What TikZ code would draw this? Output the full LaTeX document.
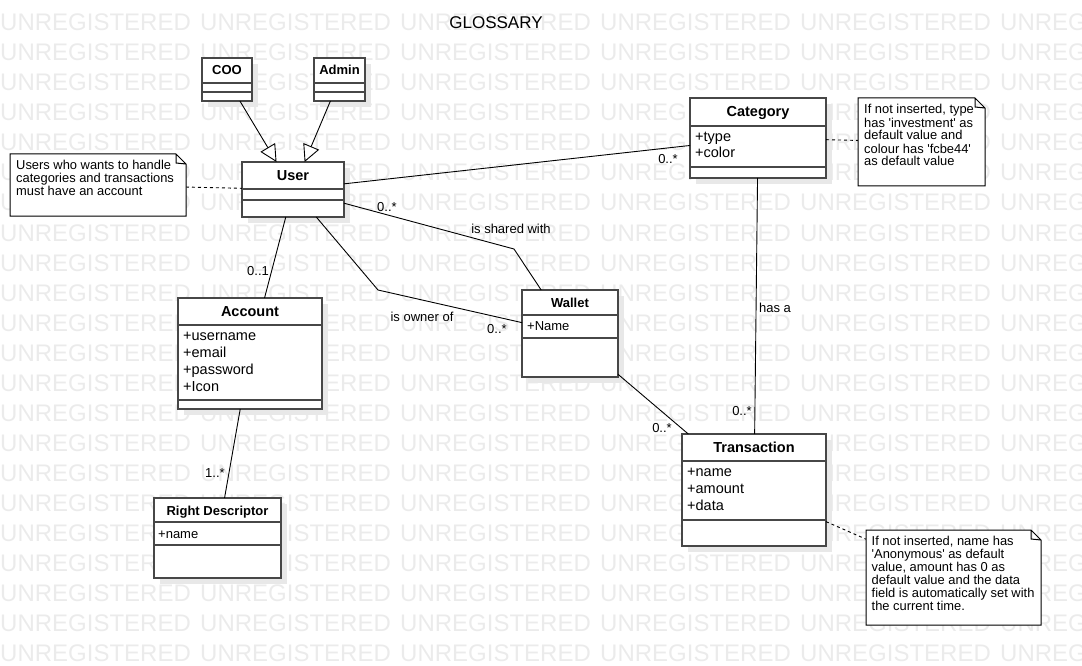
\documentclass[tikz,border=0pt]{standalone}
\usepackage{fontspec}
\setmainfont{Liberation Sans}
\usetikzlibrary{arrows.meta, shadows}

\tikzset{
  wmark/.style={anchor=base west, inner sep=0pt, text=black!8, font=\fontsize{24}{24}\selectfont},
  umlbox/.style={draw=black!72, line width=1.3pt, fill=white, inner sep=0pt, outer sep=0pt,
    drop shadow={shadow xshift=6pt, shadow yshift=-6pt, fill=black!9, opacity=1}},
  umlsep/.style={draw=black!72, line width=1.3pt},
  umltitle/.style={anchor=base, inner sep=0pt, font=\fontsize{14.5}{17}\selectfont\bfseries},
  umlsmall/.style={anchor=base, inner sep=0pt, font=\fontsize{13}{15}\selectfont\bfseries},
  umlattr/.style={anchor=base west, inner sep=0pt, align=left, font=\fontsize{14.5}{17}\selectfont},
  umlattrsmall/.style={umlattr, font=\fontsize{13}{15}\selectfont},
  note/.style={inner sep=0pt, outer sep=0pt},
  notebox/.style={draw=black, fill=white, line width=1pt},
  notetext/.style={anchor=base west, inner sep=0pt, align=left, font=\fontsize{12.9}{13}\selectfont},
  assoc/.style={draw=black, line width=0.9pt},
  gen/.style={assoc, -{Triangle[length=17pt, width=17pt, fill=white]}},
  notelink/.style={draw=black, line width=0.9pt, dash pattern=on 3pt off 3pt},
  mult/.style={inner sep=0pt, font=\fontsize{13}{15}\selectfont}
}

\begin{document}
\begin{tikzpicture}[x=1pt, y=-1pt]
\useasboundingbox (0,0) rectangle (1082,666);

% watermark
\begin{scope}
\clip (0,0) rectangle (1082,666);
\foreach \r in {0,...,21}
  \foreach \c in {0,...,5}
    \node[wmark] (wm-\c-\r) at (200*\c, 31+30*\r) {UNREGISTERED};
\end{scope}

\node[inner sep=0pt, anchor=base, font=\fontsize{17}{20}\selectfont] (title) at (496,28.5) {GLOSSARY};

% classes
\foreach \n/\cx/\cy/\w/\h in {coo/227/79.5/50/43, admin/339.5/79.5/51/43, user/293/189.5/102/55,
    category/758/138/136/80, account/250/353.5/144/111, wallet/570/333.5/96/87,
    transaction/754/490/144/112, rightdesc/217.5/538/127/80}
  \node[umlbox, minimum width=\w pt, minimum height=\h pt] (\n) at (\cx,\cy) {};

\foreach \n/\w/\a/\b in {coo/50/25/34, admin/51/25/34, user/102/27/38, category/136/28/69,
    account/144/27/102, wallet/96/25/48, transaction/144/27/86, rightdesc/127/24/47}
  \draw[umlsep] (\n.north west) ++(0,\a) -- ++(\w,0) (\n.north west) ++(0,\b) -- ++(\w,0);

\node[umlsmall] (coo-name) at ([yshift=-17pt]coo.north) {COO};
\node[umlsmall] (admin-name) at ([yshift=-17pt]admin.north) {Admin};
\node[umltitle] (user-name) at ([yshift=-18pt]user.north) {User};
\node[umltitle] (category-name) at ([yshift=-18.7pt]category.north) {Category};
\node[umltitle] (account-name) at ([yshift=-18.7pt]account.north) {Account};
\node[umlsmall] (wallet-name) at ([yshift=-17.3pt]wallet.north) {Wallet};
\node[umltitle] (transaction-name) at ([yshift=-18.3pt]transaction.north) {Transaction};
\node[umlsmall] (rightdesc-name) at ([yshift=-17pt]rightdesc.north) {Right Descriptor};

% base anchor sits on the last line
\node[umlattr] (category-attr) at ([xshift=5pt, yshift=-60pt]category.north west) {+type\\+color};
\node[umlattr] (account-attr) at ([xshift=5pt, yshift=-93pt]account.north west) {+username\\+email\\+password\\+Icon};
\node[umlattr] (transaction-attr) at ([xshift=5pt, yshift=-76pt]transaction.north west) {+name\\+amount\\+data};
\node[umlattrsmall] (wallet-attr) at ([xshift=5pt, yshift=-40pt]wallet.north west) {+Name};
\node[umlattrsmall] (rightdesc-attr) at ([xshift=4pt, yshift=-40pt]rightdesc.north west) {+name};

% notes
\node[note, minimum width=176pt, minimum height=62pt] (noteuser) at (98,185) {};
\node[note, minimum width=127pt, minimum height=88pt] (notecat) at (921.5,142) {};
\node[note, minimum width=175pt, minimum height=95pt] (notetrans) at (953.5,577.5) {};

% connectors
\coordinate (sharebend) at (514,249);
\coordinate (ownerbend) at (378,290);
\draw[gen] (coo) -- (user);
\draw[gen] (admin) -- (user);
\draw[assoc] (user) -- (category);
\draw[assoc] (user) -- (sharebend) -- (wallet);
\draw[assoc] (user) -- (ownerbend) -- (wallet);
\draw[assoc] (user) -- (account);
\draw[assoc] (account) -- (rightdesc);
\draw[assoc] (wallet) -- (transaction);
\draw[assoc] (category) -- (transaction);
\draw[notelink] (noteuser) -- (user);
\draw[notelink] (category) -- (notecat);
\draw[notelink] (transaction) -- (notetrans);

\foreach \n in {noteuser, notecat, notetrans}
  \filldraw[notebox] (\n.north west) -- ([xshift=-10pt]\n.north east) -- ([yshift=-10pt]\n.north east)
    -- (\n.south east) -- (\n.south west) -- cycle
    ([xshift=-10pt]\n.north east) -- ([xshift=-10pt, yshift=-9pt]\n.north east) -- ([yshift=-10pt]\n.north east);

\node[notetext] (noteuser-text) at ([xshift=6pt, yshift=-41.5pt]noteuser.north west)
  {Users who wants to handle\\categories and transactions\\must have an account};
\node[notetext] (notecat-text) at ([xshift=6pt, yshift=-68pt]notecat.north west)
  {If not inserted, type\\has \textquotesingle investment\textquotesingle\ as\\default value and\\colour has \textquotesingle fcbe44\textquotesingle\\as default value};
\node[notetext] (notetrans-text) at ([xshift=5.5pt, yshift=-80.7pt]notetrans.north west)
  {If not inserted, name has\\\textquotesingle Anonymous\textquotesingle\ as default\\value, amount has 0 as\\default value and the data\\field is automatically set with\\the current time.};

% labels
\node[mult] (m-usercat) at (668,159) {0..*};
\node[mult] (m-usershare) at (387,207) {0..*};
\node[mult] (l-shared) at (511,229) {is shared with};
\node[mult] (l-owner) at (422,317) {is owner of};
\node[mult] (m-walletown) at (497,329) {0..*};
\node[mult] (m-account) at (258,271) {0..1};
\node[mult] (m-rightdesc) at (215,473) {1..*};
\node[mult] (m-wallettrans) at (662,428) {0..*};
\node[mult] (l-hasa) at (775,308) {has a};
\node[mult] (m-cattrans) at (742,411) {0..*};
\end{tikzpicture}
\end{document}
